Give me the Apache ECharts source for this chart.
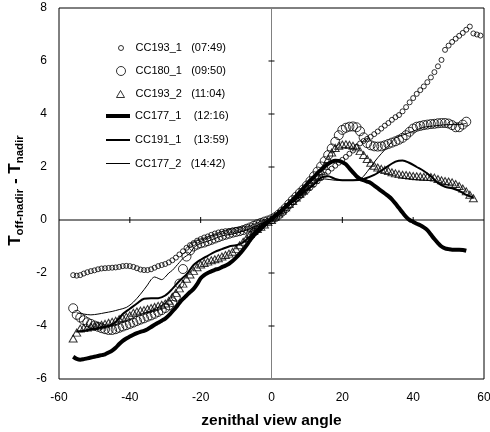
<!DOCTYPE html>
<html><head><meta charset="utf-8">
<script src="https://cdn.jsdelivr.net/npm/echarts@6/dist/echarts.min.js"></script>
<style>html,body{margin:0;padding:0;background:#fff}#c{width:490px;height:432px}</style>
</head><body><div id="c"></div>
<script>
// ---- data ----
const seriesNames = ['CC193_1   (07:49)', 'CC180_1   (09:50)', 'CC193_2   (11:04)', 'CC177_1    (12:16)', 'CC191_1    (13:59)', 'CC177_2   (14:42)'];
const xTicks = [-40, -20, 20, 40];
const yTicks = [-4, -2, 2, 4, 6];

const cc193_1 = [[-56,-2.08],[-55,-2.10],[-54,-2.08],[-53,-2.02],[-52,-1.97],[-51,-1.93],[-50,-1.90],[-49,-1.86],[-48,-1.83],[-47,-1.82],[-46,-1.81],[-45,-1.80],[-44,-1.79],[-43,-1.77],[-42,-1.74],[-41,-1.73],[-40,-1.74],[-39,-1.77],[-38,-1.82],[-37,-1.87],[-36,-1.89],[-35,-1.89],[-34,-1.86],[-33,-1.80],[-32,-1.74],[-31,-1.70],[-30,-1.66],[-29,-1.60],[-28,-1.52],[-27,-1.42],[-26,-1.30],[-25,-1.18],[-24,-1.05],[-23,-0.95],[-22,-0.87],[-21,-0.78],[-20,-0.72],[-19,-0.66],[-18,-0.62],[-17,-0.56],[-16,-0.51],[-15,-0.47],[-14,-0.44],[-13,-0.42],[-12,-0.41],[-11,-0.39],[-10,-0.37],[-9,-0.36],[-8,-0.34],[-7,-0.32],[-6,-0.29],[-5,-0.24],[-4,-0.18],[-3,-0.13],[-2,-0.07],[-1,-0.02],[0,0.03],[1,0.12],[2,0.22],[3,0.33],[4,0.44],[5,0.55],[6,0.66],[7,0.77],[8,0.88],[9,0.99],[10,1.10],[11,1.22],[12,1.34],[13,1.46],[14,1.58],[15,1.70],[16,1.82],[17,1.94],[18,2.05],[19,2.16],[20,2.27],[21,2.38],[22,2.50],[23,2.62],[24,2.76],[25,2.89],[26,2.98],[27,3.06],[28,3.14],[29,3.24],[30,3.34],[31,3.45],[32,3.56],[33,3.66],[34,3.78],[35,3.88],[36,3.96],[37,4.10],[38,4.26],[39,4.44],[40,4.60],[41,4.76],[42,4.90],[43,5.04],[44,5.20],[45,5.38],[46,5.58],[47,5.80],[48,6.04],[49,6.42],[50,6.58],[51,6.72],[52,6.84],[53,6.95],[54,7.06],[55,7.18],[56,7.30],[57,7.04],[58,7.00],[59,6.96]];

const cc180_1 = [[-56,-3.33],[-55,-3.58],[-54,-3.68],[-53,-3.78],[-52,-3.86],[-51,-3.92],[-50,-3.98],[-49,-4.03],[-48,-4.08],[-47,-4.12],[-46,-4.15],[-45,-4.15],[-44,-4.12],[-43,-4.07],[-42,-4.02],[-41,-3.97],[-40,-3.92],[-39,-3.87],[-38,-3.81],[-37,-3.76],[-36,-3.71],[-35,-3.65],[-34,-3.60],[-33,-3.54],[-32,-3.47],[-31,-3.40],[-30,-3.32],[-29,-3.22],[-28,-3.10],[-27,-2.90],[-26,-2.40],[-25,-1.85],[-24,-1.38],[-23,-1.15],[-22,-1.00],[-21,-0.93],[-20,-0.88],[-19,-0.85],[-18,-0.80],[-17,-0.75],[-16,-0.70],[-15,-0.65],[-14,-0.60],[-13,-0.56],[-12,-0.52],[-11,-0.48],[-10,-0.45],[-9,-0.42],[-8,-0.38],[-7,-0.33],[-6,-0.28],[-5,-0.22],[-4,-0.16],[-3,-0.11],[-2,-0.06],[-1,-0.02],[0,0.03],[1,0.10],[2,0.20],[3,0.32],[4,0.45],[5,0.60],[6,0.75],[7,0.88],[8,1.02],[9,1.15],[10,1.30],[11,1.47],[12,1.65],[13,1.83],[14,2.02],[15,2.22],[16,2.45],[17,2.70],[18,2.95],[19,3.20],[20,3.40],[21,3.48],[22,3.52],[23,3.53],[24,3.50],[25,3.35],[26,3.12],[27,2.90],[28,2.82],[29,2.78],[30,2.77],[31,2.78],[32,2.82],[33,2.87],[34,2.92],[35,2.97],[36,3.03],[37,3.10],[38,3.20],[39,3.33],[40,3.45],[41,3.52],[42,3.55],[43,3.58],[44,3.60],[45,3.62],[46,3.63],[47,3.65],[48,3.66],[49,3.66],[50,3.64],[51,3.58],[52,3.50],[53,3.50],[54,3.60],[55,3.71]];

const cc193_2 = [[-56,-4.47],[-55,-4.25],[-54,-4.10],[-53,-4.08],[-52,-4.06],[-51,-4.03],[-50,-4.00],[-49,-3.98],[-48,-3.95],[-47,-3.92],[-46,-3.88],[-45,-3.84],[-44,-3.80],[-43,-3.74],[-42,-3.70],[-41,-3.65],[-40,-3.60],[-39,-3.50],[-38,-3.45],[-37,-3.42],[-36,-3.40],[-35,-3.36],[-34,-3.32],[-33,-3.28],[-32,-3.24],[-31,-3.20],[-30,-3.15],[-29,-3.05],[-28,-2.90],[-27,-2.75],[-26,-2.58],[-25,-2.40],[-24,-2.22],[-23,-2.06],[-22,-1.92],[-21,-1.78],[-20,-1.68],[-19,-1.62],[-18,-1.57],[-17,-1.52],[-16,-1.48],[-15,-1.44],[-14,-1.38],[-13,-1.32],[-12,-1.27],[-11,-1.20],[-10,-1.10],[-9,-0.95],[-8,-0.82],[-7,-0.68],[-6,-0.53],[-5,-0.42],[-4,-0.34],[-3,-0.26],[-2,-0.17],[-1,-0.08],[0,0.00],[1,0.12],[2,0.24],[3,0.36],[4,0.48],[5,0.60],[6,0.72],[7,0.85],[8,0.98],[9,1.10],[10,1.24],[11,1.38],[12,1.52],[13,1.68],[14,1.85],[15,2.05],[16,2.30],[17,2.55],[18,2.72],[19,2.80],[20,2.85],[21,2.86],[22,2.84],[23,2.80],[24,2.74],[25,2.60],[26,2.45],[27,2.30],[28,2.16],[29,2.05],[30,1.98],[31,1.93],[32,1.89],[33,1.85],[34,1.80],[35,1.76],[36,1.73],[37,1.71],[38,1.70],[39,1.68],[40,1.66],[41,1.65],[42,1.64],[43,1.63],[44,1.63],[45,1.62],[46,1.60],[47,1.55],[48,1.50],[49,1.47],[50,1.45],[51,1.42],[52,1.36],[53,1.28],[54,1.19],[55,1.08],[56,0.95],[57,0.82]];

const cc177_1 = [[-56,-5.16],[-55,-5.24],[-54,-5.27],[-53,-5.25],[-52,-5.22],[-51,-5.19],[-50,-5.16],[-49,-5.13],[-48,-5.10],[-47,-5.07],[-46,-5.00],[-45,-4.93],[-44,-4.82],[-43,-4.68],[-42,-4.56],[-41,-4.47],[-40,-4.40],[-39,-4.33],[-38,-4.27],[-37,-4.22],[-36,-4.18],[-35,-4.12],[-34,-4.04],[-33,-3.95],[-32,-3.88],[-31,-3.80],[-30,-3.72],[-29,-3.60],[-28,-3.45],[-27,-3.30],[-26,-3.13],[-25,-2.98],[-24,-2.85],[-23,-2.72],[-22,-2.60],[-21,-2.42],[-20,-2.20],[-19,-2.08],[-18,-2.00],[-17,-1.94],[-16,-1.88],[-15,-1.84],[-14,-1.78],[-13,-1.72],[-12,-1.65],[-11,-1.55],[-10,-1.42],[-9,-1.28],[-8,-1.12],[-7,-0.95],[-6,-0.75],[-5,-0.58],[-4,-0.45],[-3,-0.33],[-2,-0.20],[-1,-0.08],[0,0.04],[1,0.15],[2,0.25],[3,0.37],[4,0.50],[5,0.63],[6,0.76],[7,0.90],[8,1.05],[9,1.20],[10,1.35],[11,1.50],[12,1.63],[13,1.78],[14,1.90],[15,2.02],[16,2.12],[17,2.20],[18,2.24],[19,2.23],[20,2.18],[21,2.10],[22,1.95],[23,1.80],[24,1.65],[25,1.55],[26,1.50],[27,1.45],[28,1.40],[29,1.30],[30,1.20],[31,1.10],[32,1.00],[33,0.90],[34,0.78],[35,0.62],[36,0.45],[37,0.28],[38,0.12],[39,0.00],[40,-0.07],[41,-0.14],[42,-0.20],[43,-0.28],[44,-0.38],[45,-0.55],[46,-0.72],[47,-0.87],[48,-1.00],[49,-1.07],[50,-1.10],[51,-1.12],[52,-1.12],[53,-1.12],[54,-1.13],[55,-1.16]];

const cc191_1 = [[-55,-4.20],[-54,-4.20],[-52,-4.15],[-50,-4.10],[-48,-4.05],[-46,-4.00],[-44,-3.85],[-42,-3.55],[-40,-3.35],[-38,-3.15],[-36,-2.97],[-34,-2.95],[-32,-2.95],[-30,-2.85],[-28,-2.60],[-26,-2.30],[-24,-2.05],[-22,-1.70],[-20,-1.50],[-18,-1.35],[-16,-1.20],[-14,-1.10],[-12,-1.00],[-10,-0.95],[-8,-0.85],[-6,-0.60],[-4,-0.35],[-2,-0.12],[0,0.00],[3,0.35],[6,0.70],[9,1.05],[12,1.35],[14,1.60],[16,1.65],[18,1.55],[20,1.50],[23,1.50],[26,1.55],[29,1.70],[32,1.95],[35,2.20],[37,2.25],[39,2.15],[41,2.00],[43,1.85],[45,1.65],[47,1.40],[49,1.25],[51,1.20],[53,1.10],[55,0.95],[57,0.85]];

const cc177_2 = [[-55,-3.50],[-53,-3.55],[-51,-3.58],[-49,-3.55],[-47,-3.50],[-45,-3.45],[-43,-3.38],[-41,-3.30],[-39,-3.10],[-37,-2.80],[-35,-2.45],[-34,-2.25],[-33,-2.15],[-32,-2.20],[-31,-2.25],[-30,-2.15],[-29,-2.00],[-28,-1.90],[-27,-1.75],[-26,-1.60],[-25,-1.45],[-24,-1.35],[-23,-1.25],[-22,-1.05],[-21,-0.95],[-20,-0.88],[-18,-0.80],[-16,-0.70],[-14,-0.60],[-12,-0.55],[-10,-0.50],[-8,-0.42],[-6,-0.32],[-4,-0.20],[-2,-0.08],[0,0.02],[5,0.55],[10,1.10],[13,1.45],[15,1.55],[18,1.50],[20,1.50],[23,1.50],[25,1.55],[26,1.65],[28,2.00],[30,2.35],[32,2.65],[34,2.95],[35,3.10],[37,3.20],[40,3.35],[43,3.50],[46,3.55],[50,3.60],[53,3.60],[55,3.65]];

// ---- chart ----
const FONT = "'Liberation Sans', Arial, sans-serif";
const chart = echarts.init(document.getElementById('c'), null, {renderer: 'canvas'});

const guideData = [[0, 0, 2], [0, 0, 3]]
  .concat(xTicks.map(v => [v, 0, 0]))
  .concat(yTicks.map(v => [0, v, 1]));

function legendFor(name, icon, top, left, w, h, padLeft, lh) {
  return {
    data: [{name: name, icon: icon}], top: top, left: left, itemWidth: w, itemHeight: h,
    padding: 0, selectedMode: false,
    itemStyle: {borderWidth: icon === 'rect' ? 0 : 1, borderColor: '#000', color: icon === 'rect' ? '#000' : 'rgba(255,255,255,0)'},
    textStyle: {fontFamily: FONT, fontSize: 11, color: '#000', lineHeight: lh || 14, padding: [0, 0, 0, padLeft]}
  };
}

chart.setOption({
  animation: false,
  backgroundColor: '#fff',
  grid: {left: 59, right: 6, top: 8, bottom: 53, show: true, borderColor: '#000', borderWidth: 1, backgroundColor: 'transparent',
         containLabel: false, outerBoundsMode: 'none'},
  legend: [
    legendFor(seriesNames[0], 'circle', 41, 118, 5, 5, 7),
    legendFor(seriesNames[1], 'circle', 64, 116, 9, 9, 5),
    legendFor(seriesNames[2], 'triangle', 87, 116, 8, 7, 6),
    legendFor(seriesNames[3], 'rect', 109, 106, 24, 4, 0),
    legendFor(seriesNames[4], 'rect', 133, 106, 24, 2, 0),
    legendFor(seriesNames[5], 'rect', 157, 106, 24, 1, 0, 13)
  ],
  xAxis: {
    type: 'value', min: -60, max: 60, interval: 20,
    axisLine: {show: false, onZero: false}, axisTick: {show: false}, splitLine: {show: false},
    axisLabel: {fontFamily: FONT, fontSize: 12, color: '#000', margin: 13},
    name: 'zenithal view angle', nameLocation: 'middle', nameGap: 34,
    nameTextStyle: {fontFamily: FONT, fontSize: 15.5, fontWeight: 'bold', color: '#000'}
  },
  yAxis: {
    type: 'value', min: -6, max: 8, interval: 2,
    axisLine: {show: false, onZero: false}, axisTick: {show: false}, splitLine: {show: false},
    axisLabel: {fontFamily: FONT, fontSize: 12, color: '#000', margin: 12},
    name: '{t|T}{s|off-nadir}{t| - T}{s|nadir}', nameLocation: 'middle', nameGap: 33, nameRotate: 90,
    nameTextStyle: {
      color: '#000',
      padding: [0, 0, 0, 6],
      rich: {
        t: {fontFamily: FONT, fontSize: 17, fontWeight: 'bold', color: '#000', verticalAlign: 'bottom', lineHeight: 19},
        s: {fontFamily: FONT, fontSize: 11.5, fontWeight: 'bold', color: '#000', verticalAlign: 'bottom', lineHeight: 12, padding: [0, 0, -2, 0]}
      }
    }
  },
  series: [
    {
      name: 'guides', type: 'custom', silent: true, z: 1, data: guideData,
      renderItem: function (params, api) {
        const kind = api.value(2);
        let a, b;
        if (kind === 2) { a = api.coord([-60, 0]); b = api.coord([60, 0]); return {type: 'line', shape: {x1: a[0], y1: a[1], x2: b[0], y2: b[1]}, style: {stroke: '#000', lineWidth: 1}}; }
        if (kind === 3) { a = api.coord([0, -6]); b = api.coord([0, 8]); return {type: 'line', shape: {x1: a[0], y1: a[1], x2: b[0], y2: b[1]}, style: {stroke: '#808080', lineWidth: 1}}; }
        const p = api.coord([api.value(0), api.value(1)]);
        if (kind === 0) return {type: 'line', shape: {x1: p[0], y1: p[1] - 3, x2: p[0], y2: p[1] + 3}, style: {stroke: '#000', lineWidth: 1}};
        return {type: 'line', shape: {x1: p[0] - 3, y1: p[1], x2: p[0] + 3, y2: p[1]}, style: {stroke: '#000', lineWidth: 1}};
      }
    },
    {name: seriesNames[0], type: 'scatter', data: cc193_1, symbol: 'circle', symbolSize: 5, z: 3,
     itemStyle: {color: 'rgba(255,255,255,0)', borderColor: '#000', borderWidth: 1}, emphasis: {disabled: true}},
    {name: seriesNames[1], type: 'scatter', data: cc180_1, symbol: 'circle', symbolSize: 9, z: 3,
     itemStyle: {color: 'rgba(255,255,255,0)', borderColor: '#000', borderWidth: 1}, emphasis: {disabled: true}},
    {name: seriesNames[2], type: 'scatter', data: cc193_2, symbol: 'triangle', symbolSize: [8, 7], z: 3,
     itemStyle: {color: 'rgba(255,255,255,0)', borderColor: '#000', borderWidth: 1}, emphasis: {disabled: true}},
    {name: seriesNames[3], type: 'line', data: cc177_1, showSymbol: false, symbol: 'none', smooth: 0.3, z: 4,
     lineStyle: {color: '#000', width: 4}, itemStyle: {color: '#000'}, emphasis: {disabled: true}},
    {name: seriesNames[4], type: 'line', data: cc191_1, showSymbol: false, symbol: 'none', smooth: 0.3, z: 4,
     lineStyle: {color: '#000', width: 2}, itemStyle: {color: '#000'}, emphasis: {disabled: true}},
    {name: seriesNames[5], type: 'line', data: cc177_2, showSymbol: false, symbol: 'none', smooth: 0.3, z: 4,
     lineStyle: {color: '#000', width: 1}, itemStyle: {color: '#000'}, emphasis: {disabled: true}}
  ]
});
</script></body></html>
